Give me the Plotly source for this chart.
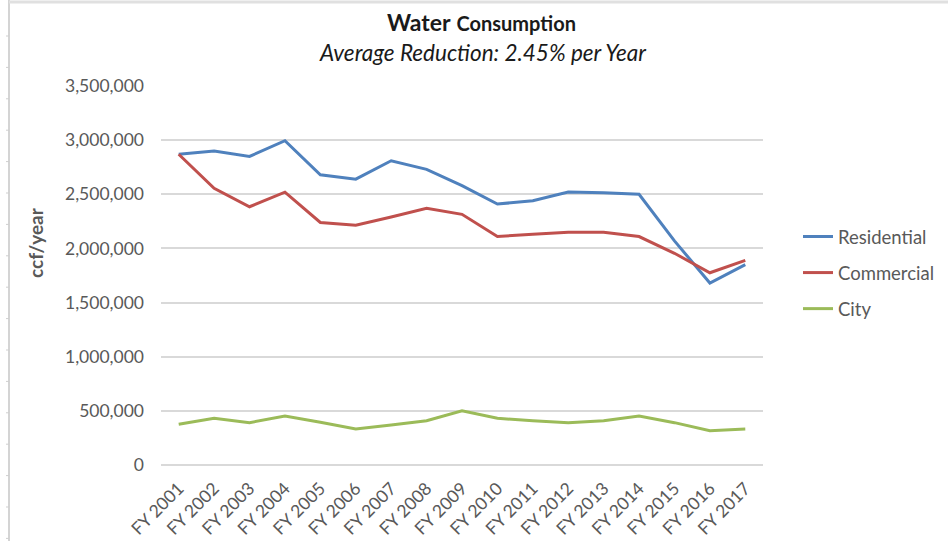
import plotly.graph_objects as go

years = ["FY 2001", "FY 2002", "FY 2003", "FY 2004", "FY 2005", "FY 2006", "FY 2007",
         "FY 2008", "FY 2009", "FY 2010", "FY 2011", "FY 2012", "FY 2013", "FY 2014",
         "FY 2015", "FY 2016", "FY 2017"]
residential = [2870000, 2900000, 2850000, 2995000, 2680000, 2640000, 2810000, 2730000,
               2580000, 2410000, 2440000, 2520000, 2515000, 2500000, 2070000, 1680000, 1850000]
commercial = [2870000, 2555000, 2385000, 2520000, 2240000, 2215000, 2290000, 2370000,
              2315000, 2110000, 2130000, 2150000, 2150000, 2110000, 1955000, 1775000, 1890000]
city = [376000, 431000, 391000, 452000, 394000, 332000, 369000, 409000, 501000, 431000,
        409000, 391000, 409000, 452000, 391000, 317000, 332000]
y_ticks = [0, 500000, 1000000, 1500000, 2000000, 2500000, 3000000, 3500000]
y_labels = ["0", "500,000", "1,000,000", "1,500,000", "2,000,000", "2,500,000",
            "3,000,000", "3,500,000"]

W, H = 948, 541
L, R, T, B = 161, 763, 86, 465


def px_x(p):
    return (p - L) / (R - L)


def px_y(p):
    return (B - p) / (B - T)


FONT = "Lato"
GRAY = "#595959"

fig = go.Figure()
series = [("Residential", residential, "#4F81BD"),
          ("Commercial", commercial, "#C0504D"),
          ("City", city, "#9BBB59")]
for name, vals, col in series:
    fig.add_trace(go.Scatter(x=years, y=vals, name=name, mode="lines",
                             line=dict(color=col, width=3),
                             legendgroup=name))

shapes = []
# sheet border artifacts (left edge with row ticks, top edge)
shapes.append(dict(type="line", xref="paper", yref="paper",
                   x0=px_x(9), x1=px_x(9), y0=px_y(0), y1=px_y(541),
                   line=dict(color="#d4d4d4", width=2)))
shapes.append(dict(type="line", xref="paper", yref="paper",
                   x0=px_x(9), x1=px_x(948), y0=px_y(2), y1=px_y(2),
                   line=dict(color="#e0e0e0", width=3)))
p = 36.0
while p < 541:
    shapes.append(dict(type="line", xref="paper", yref="paper",
                       x0=px_x(6), x1=px_x(9), y0=px_y(p), y1=px_y(p),
                       line=dict(color="#cfcfcf", width=1)))
    p += 31.4

annotations = [
    dict(xref="paper", yref="paper", x=px_x(481), y=px_y(22), showarrow=False,
         xanchor="center", yanchor="middle",
         text="<b>Water</b> <b><span style='font-size:20px'>Consumption</span></b>",
         font=dict(family=FONT, size=23, color="#1a1a1a")),
    dict(xref="paper", yref="paper", x=px_x(483), y=px_y(52), showarrow=False,
         xanchor="center", yanchor="middle",
         text="<i>Average Reduction: 2.45% per Year</i>",
         font=dict(family=FONT, size=22.5, color="#1a1a1a")),
    dict(xref="paper", yref="paper", x=px_x(36), y=px_y(243), showarrow=False,
         xanchor="center", yanchor="middle", textangle=-90,
         text="<b>ccf/year</b>",
         font=dict(family=FONT, size=19, color=GRAY)),
]

fig.update_layout(
    width=W, height=H,
    margin=dict(l=L, r=W - R, t=T, b=H - B, pad=0, autoexpand=False),
    paper_bgcolor="white", plot_bgcolor="white",
    font=dict(family=FONT, size=18, color=GRAY),
    showlegend=True,
    legend=dict(xref="container", yref="container",
                x=798 / W, y=1 - 218 / H, xanchor="left", yanchor="top",
                font=dict(family=FONT, size=18.5, color=GRAY),
                traceorder="grouped", tracegroupgap=9,
                bgcolor="rgba(0,0,0,0)"),
    shapes=shapes,
    annotations=annotations,
    xaxis=dict(type="category", range=[-0.5, 16.5], showgrid=False, zeroline=False,
               showline=False, ticks="", tickangle=-45, ticklabelstandoff=9,
               automargin=False,
               tickfont=dict(family=FONT, size=17.5, color=GRAY)),
    yaxis=dict(range=[0, 3500000], tickvals=y_ticks, ticktext=y_labels,
               showgrid=True, gridcolor="#d9d9d9", gridwidth=1.5,
               zeroline=True, zerolinecolor="#d9d9d9", zerolinewidth=1.5,
               showline=False, ticks="", ticklabelstandoff=16, automargin=False,
               tickfont=dict(family=FONT, size=17.5, color=GRAY)),
)

fig.write_html("out.html", config={"displayModeBar": False},
               post_script="document.body.style.margin='0';document.body.style.overflow='hidden';")
